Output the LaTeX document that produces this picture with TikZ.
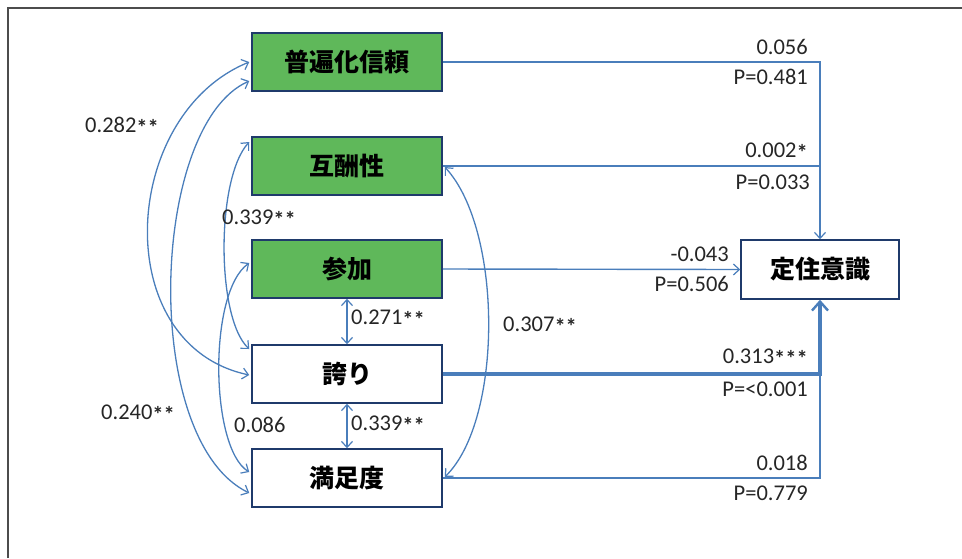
\documentclass[tikz,border=0pt]{standalone}
\usepackage{fontspec}
\setmainfont{Carlito}
\newfontfamily\jpfont{Noto Sans CJK JP}
\usetikzlibrary{arrows.meta}
\definecolor{lineblue}{HTML}{4A7EBB}
\definecolor{boxgreen}{HTML}{5FB85A}
\definecolor{boxedge}{HTML}{1F3A6B}
\definecolor{txt}{HTML}{262626}
\newcommand{\sigstar}{\raisebox{-0.12em}{\bfseries *}}
\tikzset{
  varbox/.style={draw=boxedge, line width=1.5pt, minimum width=190pt, minimum height=58pt, inner sep=0pt,
    font=\jpfont\bfseries\fontsize{25}{25}\selectfont, text=black},
  greenbox/.style={varbox, fill=boxgreen},
  whitebox/.style={varbox, fill=white},
  lab/.style={font=\fontsize{22.5}{24}\selectfont, text=txt, inner sep=0pt},
  conn/.style={draw=lineblue, line width=1.4pt},
  tip/.style={-{Straight Barb[length=6pt,width=11pt,line width=1.2pt]}},
  bitip/.style={{Straight Barb[length=6pt,width=11pt,line width=1.2pt]}-{Straight Barb[length=6pt,width=11pt,line width=1.2pt]}},
  cov/.style={draw=lineblue, line width=1.3pt, bitip},
}
\begin{document}
\begin{tikzpicture}[x=1pt,y=-1pt]
\useasboundingbox (0,0) rectangle (962,558);
% frame
\draw[line width=1.5pt, draw=black!70] (8,558) -- (8,8) -- (962,8);

% nodes
\node[greenbox] (A) at (347,62) {普遍化信頼};
\node[greenbox] (B) at (347,166) {互酬性};
\node[greenbox] (C) at (347,269) {参加};
\node[whitebox] (D) at (347,374) {誇り};
\node[whitebox] (E) at (347,478) {満足度};
\node[whitebox, minimum width=158pt, minimum height=59pt] (F) at (820,269.5) {定住意識};

% paths to F
\coordinate (jA) at (A.east -| F.north);
\coordinate (jB) at (B.east -| F.north);
\coordinate (jD) at (D.east -| F.south);
\coordinate (jE) at (E.east -| F.south);
\draw[conn, tip] (A.east) -- (jA) -- (F.north);
\draw[conn] (B.east) -- (jB);
\draw[conn, tip] (C.east) -- (F.west);
\draw[conn, line width=2pt] (E.east) -- (jE) -- (jD);
\draw[conn, line width=3.2pt, -{Straight Barb[length=9pt,width=16pt,line width=2.4pt]}] (D.east) -- (jD) -- (F.south);

% covariances (left)
\draw[cov] ([xshift=-2pt]A.west) .. controls (120,115) and (108,345) .. ([xshift=-2pt,yshift=-1pt]D.west);
\draw[cov] ([xshift=-2pt,yshift=-19pt]A.west) .. controls (150,125) and (140,440) .. ([xshift=-2pt,yshift=-15pt]E.west);
\draw[cov] ([xshift=-2pt,yshift=24pt]B.west) .. controls (216,178) and (216,318) .. ([xshift=-2pt,yshift=25pt]D.west);
\draw[cov] ([xshift=-2pt,yshift=6pt]C.west) .. controls (208,292) and (210,448) .. ([xshift=-2pt,yshift=6pt]E.west);
% covariances (vertical)
\draw[cov] (C.south) -- (D.north);
\draw[cov] (D.south) -- (E.north);
% covariance (right)
\draw[cov] ([xshift=2pt,yshift=-1pt]B.east) .. controls (503,230) and (503,420) .. ([xshift=2pt,yshift=1pt]E.east);

% labels
\node[lab, anchor=east] (l1) at (808,47) {0.056};
\node[lab, anchor=east] (p1) at (808,77) {P=0.481};
\node[lab, anchor=east] (l2) at (808,152) {0.002\sigstar};
\node[lab, anchor=east] (p2) at (810,182) {P=0.033};
\node[lab, anchor=east] (l3) at (729,254) {-0.043};
\node[lab, anchor=east] (p3) at (729,284) {P=0.506};
\node[lab, anchor=east] (l4) at (808,358) {0.313\sigstar\sigstar\sigstar};
\node[lab, anchor=east] (p4) at (808,389) {P=<0.001};
\node[lab, anchor=east] (l5) at (808,463) {0.018};
\node[lab, anchor=east] (p5) at (808,493) {P=0.779};
\node[lab, anchor=west] (c1) at (85,126) {0.282\sigstar\sigstar};
\node[lab, anchor=west] (c2) at (101,414) {0.240\sigstar\sigstar};
\node[lab, anchor=west] (c3) at (222,219) {0.339\sigstar\sigstar};
\node[lab, anchor=west] (c4) at (234,425) {0.086};
\node[lab, anchor=west] (c5) at (351,319) {0.271\sigstar\sigstar};
\node[lab, anchor=west] (c6) at (351,425) {0.339\sigstar\sigstar};
\node[lab, anchor=west] (c7) at (503,326) {0.307\sigstar\sigstar};
\end{tikzpicture}
\end{document}
